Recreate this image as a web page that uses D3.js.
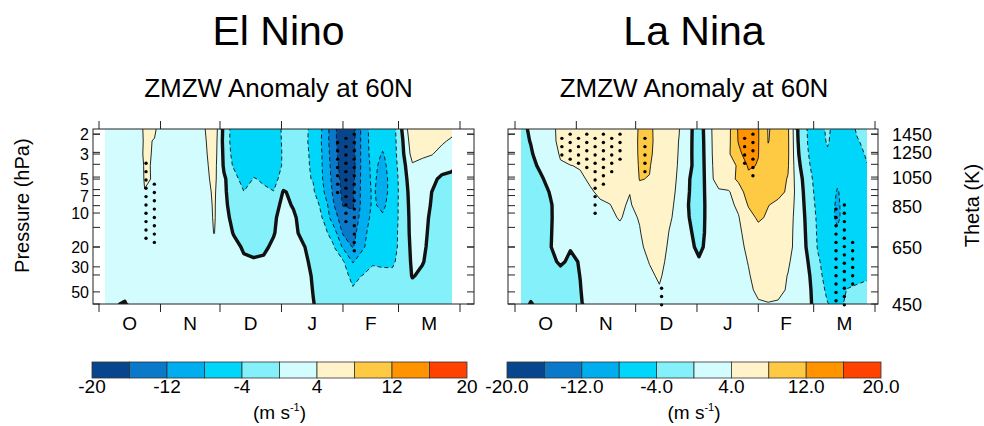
<!DOCTYPE html>
<html>
<head>
<meta charset="utf-8">
<script src="https://cdn.jsdelivr.net/npm/d3@7"></script>
<style>
  body { margin: 0; background: #fff; }
  text { font-family: "Liberation Sans", Arial, Helvetica, sans-serif; fill: #000; }
</style>
</head>
<body>
<div id="plot"></div>
<script>
// grid: columns are days after 1 Oct, rows are pressure levels (hPa), top to bottom
const colDays = [3, 8, 13, 18, 23, 28, 33, 38, 43, 48, 53, 58, 63, 68, 73, 78, 83, 88,
    93, 98, 103, 108, 113, 118, 123, 128, 133, 138, 143, 148, 153, 158, 163, 168, 173, 178];
const rowPressure = [1.8, 2.3, 3, 3.8, 5, 6.5, 8.5, 11, 15, 20, 27, 36, 48, 64];

const levels = [-20, -16, -12, -8, -4, 0, 4, 8, 12, 16, 20];
const bandColors = ['#07468c', '#0a79c9', '#00aeef', '#00d6f9', '#84f0fa',
    '#d3fcff', '#fff4c9', '#ffca43', '#ff9300', '#ff4200'];
const barLabels = [-20, -12, -4, 4, 12, 20];

const monthStarts = [0, 31, 61, 92, 123, 151, 182];
const monthLabels = ['O', 'N', 'D', 'J', 'F', 'M'];

const pressureTicks = [2, 3, 5, 7, 10, 20, 30, 50];
const pressureLabels = [2, 3, 5, 7, 10, 20, 30, 50];
// theta ticks (every 100 K) placed at their pressure height
const thetaTickPressure = [2, 2.9, 3.7, 4.8, 6.2, 8.6, 13.4, 20, 35.4, 64];
const thetaLabels = [1450, 1250, 1050, 850, 650, 450];
const thetaPressure = [2, 2.9, 4.8, 8.8, 20, 64];

// zonal mean zonal wind anomaly (m/s), El Nino
const elNino = [
    [2, 2, 2, 2.2, 4.4, 4.3, 2.5, 2, 2, 2.5, 3.7, 6.5, -1, -6, -6.5, -6, -6, -5.5, -3.5, -3, -3.4, -4.6, -8.5, -14.5, -19, -17.5, -10.5, -6, -6.5, -6, 0.5, 7.5, 6.5, 6, 5.5, 5],
    [2, 2, 2, 2.2, 4.3, 3.9, 2.5, 2, 2, 2.4, 3.4, 6.2, -1.2, -6, -6.5, -6.2, -6, -5.5, -3.6, -3, -3.5, -4.6, -8.8, -14.5, -19, -17.5, -10.5, -6.2, -6.8, -6, -0.3, 6.5, 5.5, 5, 4.4, 3.5],
    [2, 2, 2, 2.2, 4.4, 3.8, 2.5, 2, 2, 2.3, 3.2, 5.8, -0.8, -5.5, -6.5, -6.2, -6, -5.5, -3.7, -3, -3.5, -4.4, -8.5, -14, -18.5, -17.5, -10.5, -6.5, -8.3, -6, -0.8, 5.5, 4.6, 4.1, 3, 2.2],
    [2, 2, 2, 2.2, 4.2, 3.85, 2.5, 2, 2, 2.2, 3, 5.4, -0.5, -4.6, -6.2, -5.5, -5.5, -5.3, -3.7, -3, -3.5, -4.3, -8.4, -13.5, -18, -17.5, -10.5, -7, -9, -6.2, -1.5, 3.5, 3, 2.8, 2, 1.2],
    [2, 2, 2, 2.2, 4.15, 3.9, 2.5, 2, 2, 2.1, 2.8, 5, 0.5, -2.2, -6, -3.8, -4.4, -5.2, -2.5, -1.5, -3.3, -4.2, -8.2, -13, -17.5, -17, -10.5, -7.2, -9.5, -6.5, -2, 2.5, 2.2, 1, -1, -1.5],
    [2, 2, 2, 2.2, 3.95, 3.7, 2.5, 2, 2, 2, 2.5, 4.6, 0.8, -2.5, -3.9, -3, -3.5, -3.9, 0.3, -0.8, -3, -3.5, -7.5, -12.5, -17, -16.5, -10.5, -7.5, -9.5, -6.5, -2.2, 1.8, 1.8, -0.1, -1.2, -2],
    [2, 2, 2, 2.1, 3.6, 3.4, 2.5, 2, 2, 2, 2.3, 4.4, 1.2, -2.2, -3, -2.8, -2.5, -1.5, 1, -0.3, -2.5, -2.5, -5, -11.5, -16.2, -16.5, -10.5, -7.5, -8.8, -6.2, -2.3, 1.5, 1.3, -0.3, -1.5, -2.2],
    [2, 2, 2, 2.1, 3.3, 3.2, 2.5, 2, 2, 2, 2.2, 4.3, 1.8, -1.5, -2.2, -2.2, -1.8, -0.5, 1.2, 0.6, -1.5, -2.3, -4.2, -10, -14, -15, -10, -7, -7.5, -6, -2.4, 1.3, 1, -0.6, -1.6, -2.3],
    [2, 2, 2, 2, 3, 3, 2.5, 2, 2, 2, 2.1, 4.1, 2.2, -0.3, -1.5, -1.6, -1, -0.2, 1.3, 0.9, -1, -1.8, -2.8, -5.5, -12.5, -13.5, -9, -6.5, -6, -5.5, -2.5, 1.2, 0.8, -0.8, -1.7, -2.3],
    [2, 2, 2, 2, 2.7, 2.7, 2.3, 2, 2, 2, 2, 2.5, 2.3, 1.2, -0.5, -0.8, -0.5, 0.5, 1.4, 1.2, 0.3, -1.5, -2.5, -3.5, -8.5, -12.3, -8.5, -6, -5.5, -5.3, -2.6, 0.9, 0.6, -1, -1.7, -2.3],
    [2, 2, 2, 2, 2.5, 2.5, 2.2, 2, 2, 2, 2, 2.2, 2.2, 1.8, 0.6, 0.3, 0.4, 1, 1.6, 1.5, 0.8, -0.8, -1.8, -2.8, -3.5, -8.3, -6, -4.3, -4.5, -4.5, -2.6, 0.6, 0.2, -1.1, -1.8, -2.4],
    [2, 2, 2, 2, 2.3, 2.3, 2.1, 2, 2, 2, 2, 2.1, 2.2, 2, 1.5, 1.3, 1.4, 1.6, 1.8, 1.6, 1.1, -0.3, -1.5, -2.4, -3.2, -4.6, -3.9, -3.2, -3.3, -3.3, -2.4, 0.2, -0.6, -1.2, -1.8, -2.4],
    [2, 2, 1.2, 2, 2.1, 2.1, 2, 2, 2, 2, 2, 2, 2.1, 2, 1.8, 1.7, 1.7, 1.8, 1.8, 1.6, 1.2, -0.1, -1.2, -2.2, -3, -3.8, -3.3, -3, -3, -3, -2.3, -1.2, -1.3, -1.5, -1.9, -2.4],
    [2, 0.3, -0.3, 2, 2, 2, 2, 2, 2, 2, 2, 2, 2, 2, 1.9, 1.8, 1.8, 1.8, 1.7, 1.5, 1, 0.1, -1, -2, -2.8, -3.3, -3, -2.8, -2.8, -2.8, -2.2, -1.5, -1.5, -1.7, -2, -2.4]
];

// La Nina
const laNina = [
    [-1.5, 0.8, 2, 2.8, 5.2, 6, 6, 6, 6, 6, 5.5, 5.5, 8.5, 9, 6, 5.5, 4.1, 0.9, -2, 2.5, 7.5, 7, 12.5, 14.5, 12.2, 7.8, 9, 8.5, -0.1, -4.3, -6, -3.2, -6, -5.5, -3.6, -3],
    [-1.5, 0.2, 2, 2.8, 5, 6.2, 6.3, 6.4, 6.5, 6.2, 5.8, 5.6, 8.6, 9, 6.2, 5.5, 3.9, 0.9, -2.2, 2.4, 7.3, 7.1, 12.3, 14.3, 12.2, 7.9, 9.2, 8.6, 0.1, -4.1, -6, -3.6, -6, -5.7, -4.2, -3.3],
    [-2, -0.5, 2, 2.5, 4.3, 6.3, 6.3, 6.5, 6.5, 6.3, 5.8, 5.8, 8.5, 8.7, 6.2, 5.4, 3.8, 0.9, -2.3, 2.3, 7.2, 7.5, 11, 14, 12.1, 8.5, 9.3, 8.6, 0.4, -3.8, -6.2, -4.5, -6.2, -6, -4.8, -3.7],
    [-2, -1.2, 0.8, 2.8, 3.7, 3.9, 4.3, 5.8, 6.3, 6.3, 6, 6, 8.3, 8.2, 6.3, 5.3, 3.7, 1, -2.4, 2.2, 6.8, 6.5, 8.5, 12.5, 11.8, 9, 9.3, 8.4, 1, -3.3, -6.2, -5, -6.5, -6.3, -5.2, -4.1],
    [-2, -1.8, -0.6, 1.5, 2.5, 3, 3.4, 4.5, 5.8, 6, 5.8, 5.8, 8.1, 7.9, 6.3, 5.2, 3.5, 0.2, -2.4, 2, 6.5, 6.8, 8.6, 11, 10.5, 9.3, 9.3, 7.8, 1.8, -2.2, -6, -6.2, -7.5, -6.5, -5.5, -4.6],
    [-2.2, -2, -1.5, 0.3, 2.3, 2.6, 3.2, 3.6, 4.6, 4.6, 4.3, 4.1, 7.3, 7.3, 6.2, 5, 3.3, 0.1, -2.5, 1.9, 3.2, 3.6, 6.5, 9.5, 9.8, 9.5, 9, 7.5, 2.2, -1.8, -5.5, -6.5, -8.2, -6.8, -5.8, -5],
    [-2.3, -2.2, -1.6, -0.3, 1.8, 2.3, 2.8, 3.2, 3.5, 3.95, 4.6, 3.6, 5.5, 7, 6, 4.6, 3.2, -0.2, -2.5, 1.7, 2.7, 3.2, 4.6, 8.3, 8.8, 8.1, 7.2, 6.3, 2.5, -1.5, -5, -6.8, -8.4, -6.8, -6, -5],
    [-2.4, -2.3, -1.8, -0.3, 1.6, 2.1, 2.5, 2.9, 3.2, 3.5, 4.2, 3.3, 4.2, 6, 5.8, 4.3, 3.2, 0.05, -2.3, 1.6, 2.5, 2.9, 3.8, 6.5, 8.6, 7.5, 6.3, 5.6, 2.6, -1.1, -4.6, -6.8, -8.5, -6.6, -6, -5],
    [-2.5, -2.4, -1.8, -0.2, 1.6, 2, 2.3, 2.6, 2.9, 3.1, 3.3, 3, 3.8, 5.5, 5.5, 3.9, 3.1, 0.8, -2, 1.6, 2.4, 2.8, 3.4, 5.2, 6.6, 6.4, 6, 5.3, 2.6, -0.8, -4.4, -6.5, -7.6, -6.4, -5.8, -5],
    [-2.5, -2.4, -1.7, -0.1, 1.5, 0.2, 0.7, 2, 2.6, 2.9, 3, 2.9, 3.5, 4.8, 5.2, 3.6, 3, 1.4, -1.2, 1.6, 2.4, 2.7, 3.2, 4.6, 5.8, 5.8, 5.6, 5, 2.8, -0.6, -4.2, -6.3, -6.5, -6.3, -5.7, -5],
    [-2.6, -2.5, -2, -0.8, 0.5, -0.6, 0.2, 1.6, 2.3, 2.7, 2.9, 2.8, 3.1, 4.1, 4.8, 3.3, 2.9, 2, 0.6, 1.8, 2.3, 2.6, 3.1, 4.1, 5.2, 5.4, 5.2, 4.4, 2.5, 0.1, -3.5, -5.5, -6, -5.8, -5.5, -4.9],
    [-2.7, -2.6, -2.2, -1.6, -1.2, -0.8, 0.05, 1.5, 2.1, 2.5, 2.7, 2.7, 3, 3.6, 4.3, 3.1, 2.7, 2.2, 1.6, 1.9, 2.3, 2.6, 3.2, 3.8, 4.9, 5.1, 5, 3.9, 2.6, 0.8, -3, -5.2, -5.8, -5, -4.6, -4.3],
    [-2.7, -1, -2.3, -1.8, -1.4, -0.9, -0.1, 1.3, 1.9, 2.3, 2.5, 2.6, 2.8, 3.3, 3.8, 2.9, 2.6, 2.2, 1.9, 2, 2.3, 2.6, 3.1, 3.6, 4.4, 4.7, 4.5, 3.8, 2.6, 1.2, -2.5, -4.6, -5, -3.9, -3.6, -3.4],
    [-1.5, 0.2, -1, -1.9, -1.5, -1, -0.3, 1.2, 1.8, 2.2, 2.4, 2.5, 2.7, 3.2, 3.5, 2.8, 2.5, 2.2, 1.9, 2, 2.2, 2.5, 3, 3.4, 3.8, 3.9, 3.8, 3.3, 2.5, 1.4, -2.2, -3.9, -4.6, -3.6, -3.3, -3.1]
];

// significance stippling: [column, first row, last row] on the staggered dot lattice
const elNinoDots = [[5, 7, 25], [6, 12, 26], [28, 2, 14], [29, 1, 21], [30, 0, 28]];
const laNinaDots = [[5, 1, 5], [6, 0, 6], [7, 1, 7], [8, 0, 8], [9, 1, 19], [10, 0, 12],
    [11, 1, 9], [12, 0, 6], [15, 1, 9], [17, 37, 41], [27, 1, 7], [28, 0, 10],
    [38, 18, 40], [39, 17, 41], [40, 26, 36]];

let svgWidth = 984;
let svgHeight = 426;

let $svg = d3.select('#plot')
    .append('svg')
    .attr('width', svgWidth)
    .attr('height', svgHeight);

let plotTop = 129, plotBottom = 304;
let yScale = d3.scaleLog().domain([1.8, 64]).range([plotTop, plotBottom]);
let rowLog = d3.scaleLinear().domain(d3.range(rowPressure.length)).range(rowPressure.map(Math.log10));
let colDay = d3.scaleLinear().domain(d3.range(colDays.length)).range(colDays);

function drawPanel(opt) {
    let x = d3.scaleLinear().domain([0, 182]).range(opt.range);
    let g = $svg.append('g');
    let nx = colDays.length, ny = rowPressure.length;

    // clip to the data area
    let x0 = x(colDays[0]), x1 = x(colDays[nx - 1]);
    g.append('clipPath').attr('id', opt.id)
        .append('rect')
        .attr('x', x0).attr('y', plotTop)
        .attr('width', x1 - x0).attr('height', plotBottom - plotTop);

    let proj = d3.geoTransform({
        point: function (cx, cy) {
            this.stream.point(x(colDay(cx - 0.5)), yScale(Math.pow(10, rowLog(cy - 0.5))));
        }
    });
    let path = d3.geoPath(proj);
    let thresholds = levels.slice(1, -1);
    let contours = d3.contours().size([nx, ny]).thresholds(thresholds)(opt.grid.flat());

    let area = g.append('g').attr('clip-path', `url(#${opt.id})`);
    area.append('rect')
        .attr('x', x0).attr('y', plotTop)
        .attr('width', x1 - x0).attr('height', plotBottom - plotTop)
        .attr('fill', bandColors[0]);

    area.selectAll('path.fill')
        .data(contours)
        .enter()
        .append('path')
        .attr('class', 'fill')
        .attr('d', path)
        .attr('fill', (d, i) => bandColors[i + 1]);

    area.selectAll('path.line')
        .data(contours)
        .enter()
        .append('path')
        .attr('class', 'line')
        .attr('d', path)
        .attr('fill', 'none')
        .attr('stroke', '#111')
        .attr('stroke-width', d => d.value === 0 ? 3.4 : 0.9)
        .attr('stroke-dasharray', d => d.value < 0 ? '4,3' : null)
        .attr('stroke-linejoin', 'round');

    // stippling
    let dots = [];
    opt.dots.forEach(c => {
        for (let r = c[1]; r <= c[2]; r += 2) dots.push([c[0], r]);
    });
    g.selectAll('circle')
        .data(dots)
        .enter()
        .append('circle')
        .attr('cx', d => x(2.7 + 4.2 * d[0]))
        .attr('cy', d => yScale(2 * Math.pow(10, 0.0369 * d[1])))
        .attr('r', 1.7)
        .attr('fill', '#000');

    // frame
    g.append('rect')
        .attr('x', opt.frame[0]).attr('y', plotTop)
        .attr('width', opt.frame[1] - opt.frame[0]).attr('height', plotBottom - plotTop)
        .attr('fill', 'none').attr('stroke', '#222').attr('stroke-width', 1);

    // month ticks outward, top and bottom
    monthStarts.forEach(d => {
        g.append('line').attr('x1', x(d)).attr('x2', x(d))
            .attr('y1', plotBottom).attr('y2', plotBottom + 8)
            .attr('stroke', '#222');
        g.append('line').attr('x1', x(d)).attr('x2', x(d))
            .attr('y1', plotTop).attr('y2', plotTop - 8)
            .attr('stroke', '#222');
    });
    monthLabels.forEach((m, i) => {
        g.append('text')
            .attr('x', x((monthStarts[i] + monthStarts[i + 1]) / 2))
            .attr('y', plotBottom + 26)
            .attr('text-anchor', 'middle')
            .attr('font-size', 19)
            .text(m);
    });

    // pressure and theta ticks on both sides, pointing inward
    let tickP = pressureTicks.concat(thetaTickPressure);
    tickP.forEach(p => {
        g.append('line').attr('x1', opt.frame[0]).attr('x2', opt.frame[0] + 7)
            .attr('y1', yScale(p)).attr('y2', yScale(p)).attr('stroke', '#222');
        g.append('line').attr('x1', opt.frame[1]).attr('x2', opt.frame[1] - 7)
            .attr('y1', yScale(p)).attr('y2', yScale(p)).attr('stroke', '#222');
    });

    // titles
    let cx = x(90.5);
    g.append('text').attr('x', cx).attr('y', 45)
        .attr('text-anchor', 'middle').attr('font-size', 41)
        .text(opt.title);
    g.append('text').attr('x', cx).attr('y', 97)
        .attr('text-anchor', 'middle').attr('font-size', 26)
        .text('ZMZW Anomaly at 60N');

    // colour bar
    let cb = d3.scaleLinear().domain([-20, 20]).range(opt.bar);
    for (let i = 0; i < bandColors.length; i++) {
        g.append('rect')
            .attr('x', cb(levels[i])).attr('y', 362)
            .attr('width', cb(levels[i + 1]) - cb(levels[i])).attr('height', 16)
            .attr('fill', bandColors[i])
            .attr('stroke', '#333').attr('stroke-width', 0.8);
    }
    barLabels.forEach(v => {
        g.append('text').attr('x', cb(v)).attr('y', 393)
            .attr('text-anchor', 'middle').attr('font-size', 19)
            .text(v.toFixed(opt.digits));
    });
    let unit = g.append('text').attr('x', cb(0)).attr('y', 419)
        .attr('text-anchor', 'middle').attr('font-size', 19);
    unit.append('tspan').text('(m s');
    unit.append('tspan').attr('font-size', 11).attr('dy', -8).text('-1');
    unit.append('tspan').attr('dy', 8).text(')');
}

drawPanel({
    id: 'clipL', title: 'El Nino', grid: elNino, dots: elNinoDots,
    range: [99, 460], frame: [93, 474], bar: [92, 467], digits: 0
});
drawPanel({
    id: 'clipR', title: 'La Nina', grid: laNina, dots: laNinaDots,
    range: [515, 875], frame: [508, 878], bar: [507, 881], digits: 1
});

// pressure axis labels (left panel only)
pressureLabels.forEach(p => {
    $svg.append('text')
        .attr('x', 89).attr('y', yScale(p) + 6)
        .attr('text-anchor', 'end').attr('font-size', 16)
        .text(p);
});
$svg.append('text')
    .attr('transform', `translate(29, ${yScale(8.6)}) rotate(-90)`)
    .attr('text-anchor', 'middle').attr('font-size', 20)
    .text('Pressure (hPa)');

// theta axis labels (right panel only)
thetaLabels.forEach((t, i) => {
    $svg.append('text')
        .attr('x', 892).attr('y', yScale(thetaPressure[i]) + 6.5)
        .attr('font-size', 18)
        .text(t);
});
$svg.append('text')
    .attr('transform', `translate(979, ${yScale(8.6)}) rotate(-90)`)
    .attr('text-anchor', 'middle').attr('font-size', 20)
    .text('Theta (K)');
</script>
</body>
</html>
